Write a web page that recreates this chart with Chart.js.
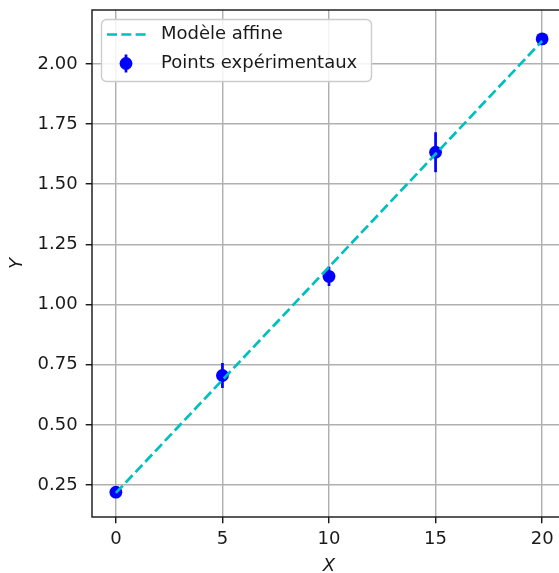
<!DOCTYPE html>
<html lang="fr">
<head>
<meta charset="utf-8">
<title>Modèle affine</title>
<script src="https://cdn.jsdelivr.net/npm/chart.js@4.4.1/dist/chart.umd.min.js"></script>
<style>
  html, body { margin: 0; padding: 0; background: #fff; overflow: hidden; }
  #wrap { width: 559px; height: 573px; overflow: hidden; position: relative; }
  #box { position: absolute; left: 0; top: 0; width: 600px; height: 573px; }
  #chart { display: block; width: 600px; height: 573px; }
</style>
</head>
<body>
<div id="wrap"><div id="box"><canvas id="chart" width="600" height="573"></canvas></div></div>
<script>
// ── Data ──────────────────────────────────────
const xPoints = [0, 5, 10, 15, 20];
const yPoints = [0.22, 0.705, 1.117, 1.633, 2.104];
const yErrors = [0.02, 0.052, 0.04, 0.083, 0.02];

const xModel = [0, 20];
const yModel = [0.217, 2.095];

const xTicks = [0, 5, 10, 15, 20];
const yTicks = [0.25, 0.5, 0.75, 1.0, 1.25, 1.5, 1.75, 2.0];

const seriesLabels = ['Modèle affine', 'Points expérimentaux'];

// ── Styles ────────────────────────────────────
const FONT = "'DejaVu Sans', sans-serif";
const TEXT = '#1a1a1a';
const CYAN = '#00bfbf';
const BLUE = '#0000ff';
const DASH = [10, 4.3];
const LW = 2.7;

// ── Error bars, drawn under the markers ───────
const errorBars = {
  id: 'errorBars',
  beforeDatasetDraw(chart, args) {
    if (args.index !== 1) return;
    const { ctx, scales: { x, y } } = chart;
    ctx.save();
    ctx.strokeStyle = BLUE;
    ctx.lineWidth = LW;
    xPoints.forEach((xv, i) => {
      const px = x.getPixelForValue(xv);
      ctx.beginPath();
      ctx.moveTo(px, y.getPixelForValue(yPoints[i] - yErrors[i]));
      ctx.lineTo(px, y.getPixelForValue(yPoints[i] + yErrors[i]));
      ctx.stroke();
    });
    ctx.restore();
  }
};

// ── Frame + legend ────────────────────────────
const frameLegend = {
  id: 'frameLegend',
  afterDraw(chart) {
    const { ctx, chartArea: a } = chart;
    ctx.save();
    ctx.strokeStyle = TEXT;
    ctx.lineWidth = 1.44;
    ctx.strokeRect(a.left, a.top, a.right - a.left, a.bottom - a.top);

    // legend box
    const bx = 101.5, by = 19.5, bw = 270, bh = 62, r = 5;
    ctx.beginPath();
    ctx.roundRect(bx, by, bw, bh, r);
    ctx.fillStyle = 'rgba(255,255,255,0.85)';
    ctx.fill();
    ctx.strokeStyle = '#cccccc';
    ctx.lineWidth = 1.4;
    ctx.stroke();

    const row1 = 34.5, row2 = 63.5;
    ctx.strokeStyle = CYAN;
    ctx.lineWidth = LW;
    ctx.setLineDash(DASH);
    ctx.beginPath();
    ctx.moveTo(107, row1);
    ctx.lineTo(146, row1);
    ctx.stroke();
    ctx.setLineDash([]);

    ctx.strokeStyle = BLUE;
    ctx.beginPath();
    ctx.moveTo(126, row2 - 9);
    ctx.lineTo(126, row2 + 9);
    ctx.stroke();
    ctx.fillStyle = BLUE;
    ctx.beginPath();
    ctx.arc(126, row2, 6.4, 0, Math.PI * 2);
    ctx.fill();

    ctx.fillStyle = TEXT;
    ctx.font = `18px ${FONT}`;
    ctx.textBaseline = 'middle';
    ctx.fillText(seriesLabels[0], 161, row1);
    ctx.fillText(seriesLabels[1], 161, row2);
    ctx.restore();
  }
};

// ── Chart ─────────────────────────────────────
const tickFont = { family: FONT, size: 18 };
const titleFont = { family: FONT, size: 18, style: 'italic' };
const gridOpts = { color: '#b0b0b0', lineWidth: 1.44, tickColor: TEXT, tickLength: 6.3, tickWidth: 1.44 };

new Chart(document.getElementById('chart'), {
  data: {
    datasets: [
      {
        type: 'line',
        label: seriesLabels[0],
        data: xModel.map((v, i) => ({ x: v, y: yModel[i] })),
        borderColor: CYAN,
        borderWidth: LW,
        borderDash: DASH,
        pointRadius: 0,
        fill: false
      },
      {
        type: 'scatter',
        label: seriesLabels[1],
        data: xPoints.map((v, i) => ({ x: v, y: yPoints[i] })),
        backgroundColor: BLUE,
        borderColor: BLUE,
        pointRadius: 6.4,
        borderWidth: 0
      }
    ]
  },
  options: {
    responsive: false,
    animation: false,
    // right side of the plot runs past the visible edge
    layout: { padding: { top: 10, right: 34, left: 0, bottom: 0 } },
    plugins: { legend: { display: false }, tooltip: { enabled: false } },
    scales: {
      x: {
        type: 'linear',
        min: -1.12,
        max: 21.12,
        grid: gridOpts,
        border: { display: false },
        afterBuildTicks: s => { s.ticks = xTicks.map(v => ({ value: v })); },
        afterFit: s => { s.height = 56; },
        ticks: { font: tickFont, color: TEXT, padding: 5, maxRotation: 0, callback: v => v },
        title: { display: true, text: 'X', color: TEXT, font: titleFont, padding: { top: 0, bottom: -4 } }
      },
      y: {
        type: 'linear',
        min: 0.117,
        max: 2.224,
        grid: gridOpts,
        border: { display: false },
        afterBuildTicks: s => { s.ticks = yTicks.map(v => ({ value: v })); },
        afterFit: s => { s.width = 92; s.paddingTop = 0; s.paddingBottom = 0; },
        ticks: { font: tickFont, color: TEXT, padding: 8, callback: v => v.toFixed(2) },
        title: { display: true, text: 'Y', color: TEXT, font: titleFont, padding: { top: 7, bottom: 0 } }
      }
    }
  },
  plugins: [errorBars, frameLegend]
});
</script>
</body>
</html>
